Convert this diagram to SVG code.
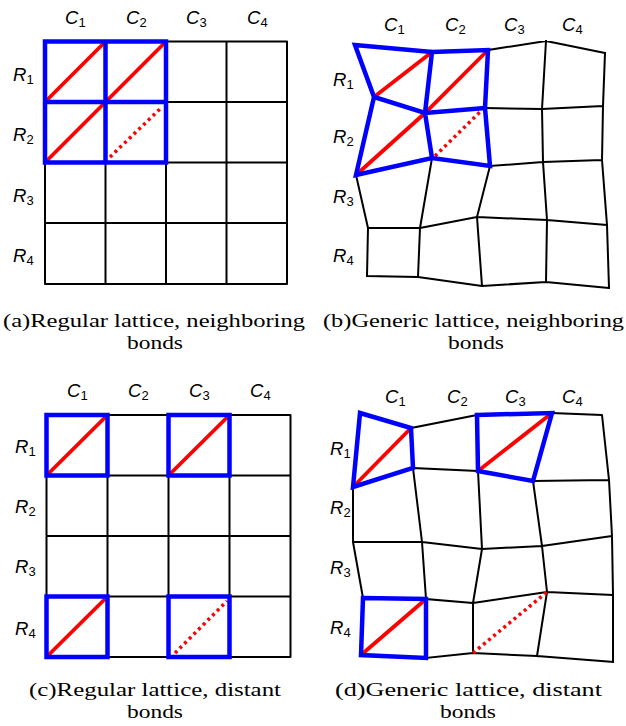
<svg xmlns="http://www.w3.org/2000/svg" width="626" height="726" viewBox="0 0 626 726">
<style>
.k{stroke:#000;stroke-width:2;fill:none;stroke-linejoin:round;stroke-linecap:square}
.b{stroke:#0000ff;stroke-width:4.5;fill:none;stroke-linejoin:miter;stroke-linecap:square}
.r{stroke:#ff0000;stroke-width:3.8;fill:none}
.rd{stroke:#ff0000;stroke-width:3.5;fill:none;stroke-dasharray:3 3.6}
.lab{font-family:"Liberation Sans",Arial,sans-serif;font-style:italic;font-size:18.5px;fill:#000}
.sub{font-size:13px;font-style:normal}
.cap{font-family:"Liberation Serif","Times New Roman",serif;font-size:19px;fill:#000;text-anchor:middle}
</style>
<rect width="626" height="726" fill="#fff"/>

<!-- Panel (a) -->
<g id="panel-a">
<path class="k" d="M45,41.5H287V284H45Z M105.5,41.5V284 M166,41.5V284 M226.5,41.5V284 M45,102H287 M45,162.5H287 M45,223H287"/>
<path class="r" d="M45,102L105.5,41.5 M105.5,102L166,41.5 M45,162.5L105.5,102"/>
<path class="rd" d="M110,157L162,107"/>
<path class="b" d="M45,41.5H166V162.5H45Z M105.5,41.5V162.5 M45,102H166"/>
<text class="lab" x="65" y="24">C<tspan class="sub" dy="3">1</tspan></text>
<text class="lab" x="126" y="24">C<tspan class="sub" dy="3">2</tspan></text>
<text class="lab" x="186" y="24">C<tspan class="sub" dy="3">3</tspan></text>
<text class="lab" x="247" y="24">C<tspan class="sub" dy="3">4</tspan></text>
<text class="lab" x="13" y="81">R<tspan class="sub" dy="3">1</tspan></text>
<text class="lab" x="13" y="141">R<tspan class="sub" dy="3">2</tspan></text>
<text class="lab" x="13" y="202">R<tspan class="sub" dy="3">3</tspan></text>
<text class="lab" x="13" y="262">R<tspan class="sub" dy="3">4</tspan></text>
<text class="cap" x="154" y="327" textLength="302" lengthAdjust="spacingAndGlyphs">(a)Regular lattice, neighboring</text>
<text class="cap" x="155" y="349" textLength="56" lengthAdjust="spacingAndGlyphs">bonds</text>
</g>

<!-- Panel (b) -->
<g id="panel-b">
<path class="k" d="M488,50L546,41L605,53 M485,108L542,109L603,106 M490,166L543,162L602,160 M368,228L420,228L477,217L547,220L607,225 M367,276L418,277L482,286L546,282L609,288 M356,175L368,228L367,276 M432,158L420,228L418,277 M490,166L477,217L482,286 M546,41L542,109L543,162L547,220L546,282 M605,53L603,106L602,160L607,225L609,288"/>
<path class="r" d="M374,97L432,52 M356,175L425,113L488,50"/>
<path class="rd" d="M435,156L482,110"/>
<path class="b" d="M355,45L432,52L488,50L485,108L490,166L432,158L356,175L374,97Z M374,97L425,113L485,108 M432,52L425,113L432,158"/>
<text class="lab" x="384" y="31">C<tspan class="sub" dy="3">1</tspan></text>
<text class="lab" x="445" y="31">C<tspan class="sub" dy="3">2</tspan></text>
<text class="lab" x="504" y="31">C<tspan class="sub" dy="3">3</tspan></text>
<text class="lab" x="562" y="31">C<tspan class="sub" dy="3">4</tspan></text>
<text class="lab" x="333" y="86">R<tspan class="sub" dy="3">1</tspan></text>
<text class="lab" x="333" y="143">R<tspan class="sub" dy="3">2</tspan></text>
<text class="lab" x="333" y="203">R<tspan class="sub" dy="3">3</tspan></text>
<text class="lab" x="333" y="262">R<tspan class="sub" dy="3">4</tspan></text>
<text class="cap" x="473.5" y="327" textLength="301" lengthAdjust="spacingAndGlyphs">(b)Generic lattice, neighboring</text>
<text class="cap" x="476" y="349" textLength="56" lengthAdjust="spacingAndGlyphs">bonds</text>
</g>

<!-- Panel (c) -->
<g id="panel-c">
<path class="k" d="M46.5,415H290.5V657H46.5Z M107.5,415V657 M168.5,415V657 M229.5,415V657 M46.5,475.5H290.5 M46.5,536H290.5 M46.5,596.5H290.5"/>
<path class="r" d="M46.5,475.5L107.5,415 M168.5,475.5L229.5,415 M46.5,657L107.5,596.5"/>
<path class="rd" d="M175,653L227,601"/>
<path class="b" d="M46.5,415H107.5V475.5H46.5Z M168.5,415H229.5V475.5H168.5Z M46.5,596.5H107.5V657H46.5Z M168.5,596.5H229.5V657H168.5Z"/>
<text class="lab" x="67" y="397">C<tspan class="sub" dy="3">1</tspan></text>
<text class="lab" x="128" y="397">C<tspan class="sub" dy="3">2</tspan></text>
<text class="lab" x="189" y="397">C<tspan class="sub" dy="3">3</tspan></text>
<text class="lab" x="250" y="397">C<tspan class="sub" dy="3">4</tspan></text>
<text class="lab" x="15" y="453">R<tspan class="sub" dy="3">1</tspan></text>
<text class="lab" x="15" y="513">R<tspan class="sub" dy="3">2</tspan></text>
<text class="lab" x="15" y="573">R<tspan class="sub" dy="3">3</tspan></text>
<text class="lab" x="15" y="635">R<tspan class="sub" dy="3">4</tspan></text>
<text class="cap" x="155" y="696" textLength="252" lengthAdjust="spacingAndGlyphs">(c)Regular lattice, distant</text>
<text class="cap" x="155" y="718" textLength="56" lengthAdjust="spacingAndGlyphs">bonds</text>
</g>

<!-- Panel (d) -->
<g id="panel-d">
<path class="k" d="M411,428L477,415 M552,413L602,415L609,480 M413,468L478,471 M533,481L609,480 M353,487L353,542L363,598 M413,468L422,542L426,599 M478,471L482,549L473,603L473,653 M533,481L542,546L547,592L537,656 M609,480L612,536L613,595L613,662 M353,542L422,542L482,549L542,546L612,536 M426,599L473,603L547,592L613,595 M426,658L473,653L537,656L613,662"/>
<path class="r" d="M353,487L411,428 M478,471L552,413 M361,655L426,599"/>
<path class="rd" d="M473,653L547,592"/>
<path class="b" d="M360,413L411,428L413,468L353,487Z M477,415L552,413L533,481L478,471Z M363,598L426,599L426,658L361,655Z"/>
<text class="lab" x="385" y="403">C<tspan class="sub" dy="3">1</tspan></text>
<text class="lab" x="447" y="403">C<tspan class="sub" dy="3">2</tspan></text>
<text class="lab" x="505" y="403">C<tspan class="sub" dy="3">3</tspan></text>
<text class="lab" x="562" y="403">C<tspan class="sub" dy="3">4</tspan></text>
<text class="lab" x="330" y="455">R<tspan class="sub" dy="3">1</tspan></text>
<text class="lab" x="330" y="514">R<tspan class="sub" dy="3">2</tspan></text>
<text class="lab" x="330" y="574">R<tspan class="sub" dy="3">3</tspan></text>
<text class="lab" x="330" y="634">R<tspan class="sub" dy="3">4</tspan></text>
<text class="cap" x="468.5" y="696" textLength="267" lengthAdjust="spacingAndGlyphs">(d)Generic lattice, distant</text>
<text class="cap" x="468" y="718" textLength="56" lengthAdjust="spacingAndGlyphs">bonds</text>
</g>
</svg>
